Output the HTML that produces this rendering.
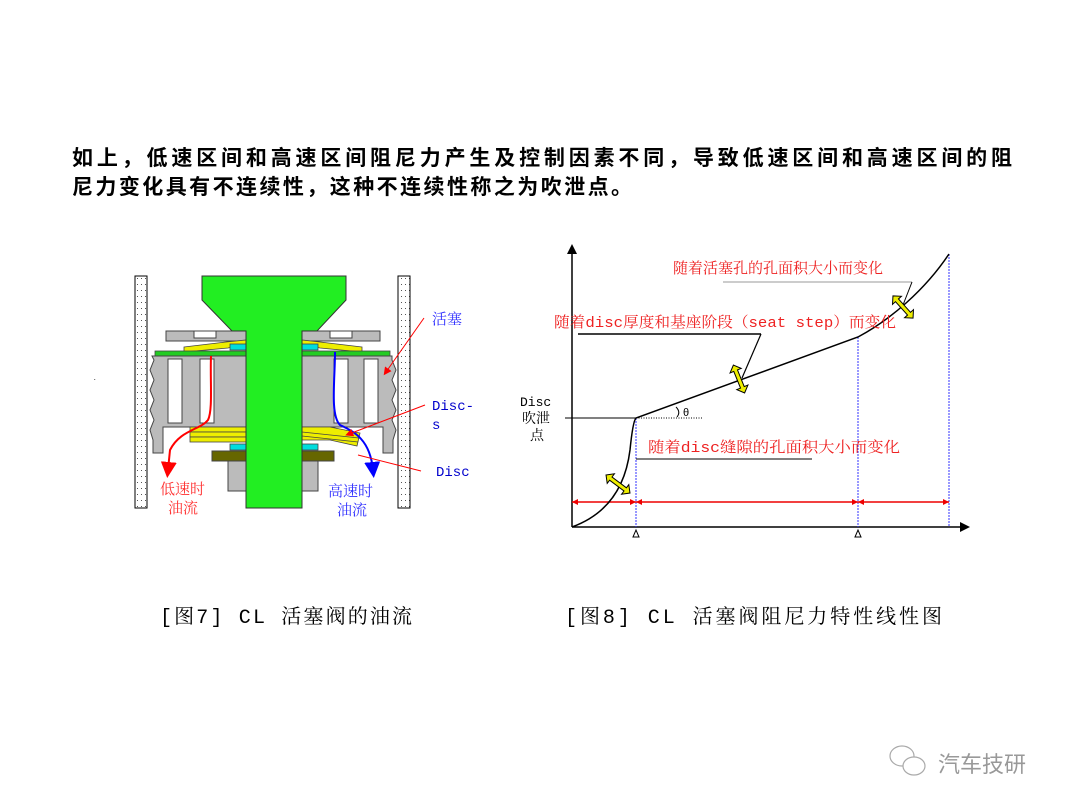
<!DOCTYPE html>
<html><head><meta charset="utf-8"><style>
html,body{margin:0;padding:0;background:#fff;}
svg{display:block;}
text{font-family:"Liberation Mono","Noto Serif CJK SC","Noto Sans CJK SC",serif;}
.s{font-family:"Liberation Sans","Noto Sans CJK SC",sans-serif;}
</style></head><body>
<svg width="1080" height="810" viewBox="0 0 1080 810" xmlns="http://www.w3.org/2000/svg">
<defs>
<pattern id="dots" width="4" height="6" patternUnits="userSpaceOnUse"><rect width="4" height="6" fill="#fff"/><rect x="1" y="2" width="1" height="1" fill="#555"/></pattern>
<marker id="ah" markerWidth="8" markerHeight="8" refX="4" refY="4" orient="auto"><path d="M0,0 L8,4 L0,8 Z" fill="context-stroke"/></marker>
</defs>

<!-- header -->
<text x="72" y="165" font-size="21" font-weight="bold" class="s" textLength="940" lengthAdjust="spacing">如上，低速区间和高速区间阻尼力产生及控制因素不同，导致低速区间和高速区间的阻</text>
<text x="72" y="194" font-size="21" font-weight="bold" class="s" textLength="560" lengthAdjust="spacing">尼力变化具有不连续性，这种不连续性称之为吹泄点。</text>

<!-- LEFT DIAGRAM -->
<rect x="135" y="276" width="12" height="232" fill="url(#dots)" stroke="#000" stroke-width="1"/>
<rect x="398" y="276" width="12" height="232" fill="url(#dots)" stroke="#000" stroke-width="1"/>
<rect x="166" y="331" width="80" height="10" fill="#bbb" stroke="#444"/>
<rect x="302" y="331" width="78" height="10" fill="#bbb" stroke="#444"/>
<rect x="194" y="331" width="22" height="7" fill="#fff" stroke="#444"/>
<rect x="330" y="331" width="22" height="7" fill="#fff" stroke="#444"/>
<polygon points="184,347 226,342 246,340 246,344 228,348 184,352" fill="#ee0" stroke="#444" stroke-width="0.8"/>
<polygon points="362,347 320,342 302,340 302,344 320,348 362,352" fill="#ee0" stroke="#444" stroke-width="0.8"/>
<rect x="230" y="344" width="16" height="6" fill="#0dd" stroke="#444" stroke-width="0.8"/>
<rect x="302" y="344" width="16" height="6" fill="#0dd" stroke="#444" stroke-width="0.8"/>
<rect x="155" y="351" width="91" height="5" fill="#2c2" stroke="#444" stroke-width="0.8"/>
<rect x="302" y="351" width="88" height="5" fill="#2c2" stroke="#444" stroke-width="0.8"/>
<path d="M152,356 L246,356 L246,427 L190,427 L163,427 L163,453 L153,453 L153,440 L150,430 L154,420 L150,410 L154,400 L150,390 L154,380 L150,370 L154,360 Z" fill="#bbb" stroke="#444"/>
<path d="M392,356 L302,356 L302,427 L356,427 L383,427 L383,453 L393,453 L393,440 L396,430 L392,420 L396,410 L392,400 L396,390 L392,380 L396,370 L392,360 Z" fill="#bbb" stroke="#444"/>
<rect x="168" y="359" width="14" height="64" fill="#fff" stroke="#444"/>
<rect x="200" y="359" width="14" height="64" fill="#fff" stroke="#444"/>
<rect x="334" y="359" width="14" height="64" fill="#fff" stroke="#444"/>
<rect x="364" y="359" width="14" height="64" fill="#fff" stroke="#444"/>
<rect x="190" y="427" width="56" height="5" fill="#ee0" stroke="#444" stroke-width="0.8"/>
<rect x="190" y="432" width="56" height="5" fill="#ee0" stroke="#444" stroke-width="0.8"/>
<rect x="190" y="437" width="56" height="5" fill="#ee0" stroke="#444" stroke-width="0.8"/>
<polygon points="302,427 330,427 360,433 357,446 330,440 302,440" fill="#ee0" stroke="#444" stroke-width="0.8"/>
<line x1="302" y1="432" x2="359" y2="438" stroke="#444" stroke-width="0.8"/>
<line x1="302" y1="436" x2="358" y2="442" stroke="#444" stroke-width="0.8"/>
<rect x="230" y="444" width="16" height="6" fill="#0dd" stroke="#444" stroke-width="0.8"/>
<rect x="302" y="444" width="16" height="6" fill="#0dd" stroke="#444" stroke-width="0.8"/>
<rect x="212" y="451" width="34" height="10" fill="#660" stroke="#444"/>
<rect x="302" y="451" width="32" height="10" fill="#660" stroke="#444"/>
<rect x="228" y="461" width="18" height="30" fill="#bbb" stroke="#444"/>
<rect x="302" y="461" width="16" height="30" fill="#bbb" stroke="#444"/>
<path d="M202,276 L346,276 L346,300 L317,331 L302,331 L302,508 L246,508 L246,331 L232,331 L202,300 Z" fill="#2e2" stroke="#333"/>
<path d="M211,356 C210,380 213,410 208,420 C200,430 180,430 170,450 L168,470" fill="none" stroke="#f00" stroke-width="2" marker-end="url(#ah)"/>
<path d="M335,352 C335,380 330,415 340,425 C355,432 370,440 373,470" fill="none" stroke="#00f" stroke-width="2" marker-end="url(#ah)"/>
<line x1="424" y1="318" x2="386" y2="372" stroke="#f00" stroke-width="1" marker-end="url(#ah)"/>
<line x1="425" y1="405" x2="349" y2="434" stroke="#f00" stroke-width="1" marker-end="url(#ah)"/>
<line x1="421" y1="471" x2="358" y2="455" stroke="#f00" stroke-width="1"/>
<text x="432" y="324" font-size="15" fill="#33f">活塞</text>
<text x="432" y="410" font-size="14" fill="#00c">Disc-</text>
<text x="432" y="429" font-size="14" fill="#00c">s</text>
<text x="436" y="476" font-size="14" fill="#00c">Disc</text>
<text x="160" y="494" font-size="15" fill="#f33">低速时</text>
<text x="168" y="513" font-size="15" fill="#f33">油流</text>
<text x="328" y="496" font-size="15" fill="#33f">高速时</text>
<text x="337" y="515" font-size="15" fill="#33f">油流</text>

<!-- RIGHT CHART -->
<line x1="572" y1="527" x2="572" y2="252" stroke="#000" stroke-width="1.5"/>
<path d="M567,254 L572,244 L577,254 Z" fill="#000"/>
<line x1="572" y1="527" x2="962" y2="527" stroke="#000" stroke-width="1.5"/>
<path d="M960,522 L970,527 L960,532 Z" fill="#000"/>
<line x1="636" y1="418" x2="636" y2="527" stroke="#33f" stroke-dasharray="2,1"/>
<line x1="858" y1="337" x2="858" y2="527" stroke="#33f" stroke-dasharray="2,1"/>
<line x1="949" y1="254" x2="949" y2="527" stroke="#33f" stroke-dasharray="2,1"/>
<line x1="572" y1="502" x2="949" y2="502" stroke="#e00" stroke-width="1.5"/>
<g fill="#e00"><path d="M572,502 l6,-3 v6z M636,502 l-6,-3 v6z M636,502 l6,-3 v6z M858,502 l-6,-3 v6z M858,502 l6,-3 v6z M949,502 l-6,-3 v6z"/></g>
<path d="M633,537 L636,530 L639,537 Z" fill="#fff" stroke="#000"/>
<path d="M855,537 L858,530 L861,537 Z" fill="#fff" stroke="#000"/>
<path d="M572,527 C605,515 625,490 630,450 C632,430 634,420 636,418 L858,337 C890,320 925,290 949,254" fill="none" stroke="#000" stroke-width="1.5"/>
<line x1="565" y1="418" x2="636" y2="418" stroke="#000"/>
<line x1="636" y1="418" x2="702" y2="418" stroke="#000" stroke-dasharray="1,1.5"/>
<path d="M676,407 Q681,412 677,417" fill="none" stroke="#000"/>
<text x="683" y="416" font-size="11" class="s">θ</text>
<line x1="723" y1="282" x2="912" y2="282" stroke="#999"/>
<line x1="912" y1="282" x2="903" y2="305" stroke="#000"/>
<line x1="578" y1="334" x2="761" y2="334" stroke="#000" stroke-width="1.5"/>
<line x1="761" y1="334" x2="742" y2="378" stroke="#000" stroke-width="1.2"/>
<line x1="636" y1="459" x2="812" y2="459" stroke="#000"/>
<!-- yellow double arrows -->
<g stroke="#000" stroke-width="1" fill="#ee0">
<g transform="translate(618,484) rotate(37)"><path d="M-15,0 L-9,-6 L-9,-2 L9,-2 L9,-6 L15,0 L9,6 L9,2 L-9,2 L-9,6 Z"/></g>
<g transform="translate(739,379) rotate(68)"><path d="M-15,0 L-9,-6 L-9,-2 L9,-2 L9,-6 L15,0 L9,6 L9,2 L-9,2 L-9,6 Z"/></g>
<g transform="translate(903,307) rotate(48)"><path d="M-15,0 L-9,-6 L-9,-2 L9,-2 L9,-6 L15,0 L9,6 L9,2 L-9,2 L-9,6 Z"/></g>
</g>
<text x="673" y="273" font-size="15" fill="#e22">随着活塞孔的孔面积大小而变化</text>
<text x="554" y="327" font-size="15" fill="#e22" textLength="342" lengthAdjust="spacingAndGlyphs">随着disc厚度和基座阶段（seat step）而变化</text>
<text x="648" y="452" font-size="15" fill="#e22" textLength="252" lengthAdjust="spacingAndGlyphs">随着disc缝隙的孔面积大小而变化</text>
<text x="520" y="406" font-size="13">Disc</text>
<text x="522" y="423" font-size="14">吹泄</text>
<text x="530" y="440" font-size="14">点</text>
<text x="93" y="380" font-size="6">.</text>

<!-- captions -->
<text x="160" y="623" font-size="20" textLength="252" lengthAdjust="spacing">[图7] CL 活塞阀的油流</text>
<text x="565" y="623" font-size="20" textLength="377" lengthAdjust="spacing">[图8] CL 活塞阀阻尼力特性线性图</text>

<!-- watermark -->
<g stroke="#aaa" fill="#fff" stroke-width="1.2">
<ellipse cx="902" cy="756" rx="12" ry="10"/>
<ellipse cx="914" cy="766" rx="11" ry="9"/>
</g>
<text x="938" y="772" font-size="22" fill="#999" class="s">汽车技研</text>
</svg>
</body></html>
